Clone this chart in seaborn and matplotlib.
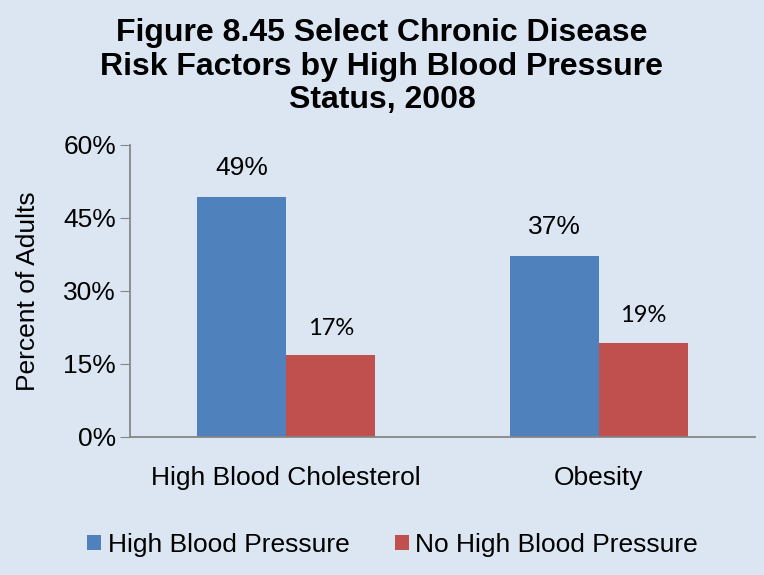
import matplotlib.pyplot as plt
import seaborn as sns
import pandas as pd

# chart data
categories = ["High Blood Cholesterol", "Obesity"]
series_names = ["High Blood Pressure", "No High Blood Pressure"]
high_bp = [49.4, 37.2]
no_high_bp = [16.8, 19.3]
y_ticks = [0, 15, 30, 45, 60]

bg = "#DCE6F2"
colors = ["#4F81BD", "#C0504D"]
axis_grey = "#868686"

df = pd.DataFrame({
    "category": categories * 2,
    "status": [series_names[0]] * 2 + [series_names[1]] * 2,
    "value": high_bp + no_high_bp,
})

sns.set_style("white")
plt.rcParams["font.family"] = ["Liberation Sans", "DejaVu Sans"]
plt.rcParams["text.color"] = "black"
plt.rcParams["xtick.color"] = "black"
plt.rcParams["ytick.color"] = "black"
plt.rcParams["axes.labelcolor"] = "black"

fig = plt.figure(figsize=(7.64, 5.75), dpi=100, facecolor=bg)
ax = fig.add_axes([0.170, 0.240, 0.818, 0.508], facecolor=bg)

sns.barplot(
    data=df,
    x="category",
    y="value",
    hue="status",
    palette=colors,
    width=0.57,
    saturation=1,
    linewidth=0,
    ax=ax,
    legend=True,
)

# data labels
label_fonts = ["Liberation Sans", "Lato"]
label_sizes = [19, 17]
for container, fam, size in zip(ax.containers, label_fonts, label_sizes):
    ax.bar_label(
        container,
        labels=[f"{v:.0f}%" for v in container.datavalues],
        padding=12,
        fontsize=size,
        family=fam,
    )

ax.set_xlim(-0.5, 1.5)
ax.set_ylim(0, 60)
ax.set_yticks(y_ticks)
ax.set_yticklabels([f"{t}%" for t in y_ticks], fontsize=19)
ax.set_xticks([0, 1])
ax.set_xticklabels(categories, fontsize=19)
ax.tick_params(axis="x", length=0, pad=21)
ax.set_xticks([-0.5, 0.5, 1.5], minor=True)
ax.tick_params(axis="x", which="minor", length=6, color=axis_grey, direction="out")
ax.tick_params(axis="y", length=7, color=axis_grey, direction="out", left=True, pad=3)

ax.set_xlabel("")
ax.set_ylabel("Percent of Adults", fontsize=19, labelpad=17)

for side in ["top", "right"]:
    ax.spines[side].set_visible(False)
for side in ["left", "bottom"]:
    ax.spines[side].set_color(axis_grey)
    ax.spines[side].set_linewidth(1.3)

fig.suptitle(
    "Figure 8.45 Select Chronic Disease\nRisk Factors by High Blood Pressure\nStatus, 2008",
    fontsize=23,
    fontweight="bold",
    y=0.968,
    linespacing=1.15,
)

handles, labels = ax.get_legend_handles_labels()
ax.legend_.remove()
fig.legend(
    handles,
    labels,
    loc="lower center",
    bbox_to_anchor=(0.514, -0.01),
    ncol=2,
    frameon=False,
    fontsize=19,
    handlelength=0.53,
    handleheight=0.53,
    handletextpad=0.25,
    columnspacing=1.7,
)

plt.savefig("out.png", dpi=100, facecolor=bg)
plt.close()
